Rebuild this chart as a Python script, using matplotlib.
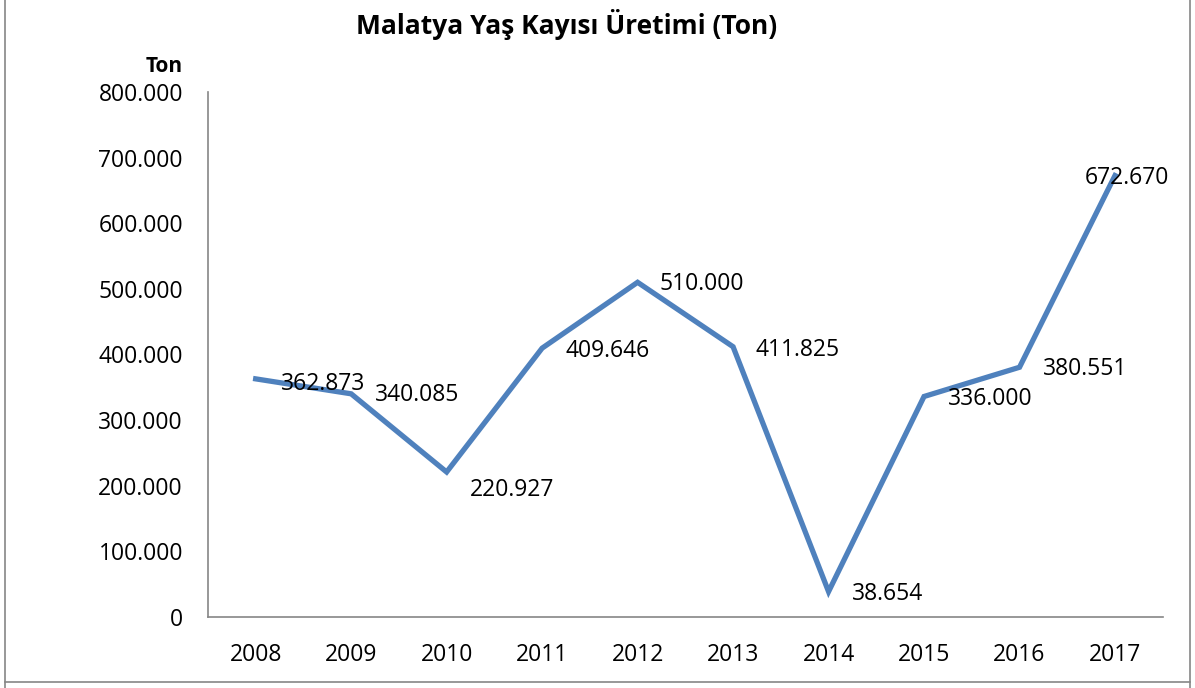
import matplotlib.pyplot as plt
from matplotlib.ticker import FuncFormatter
from matplotlib.lines import Line2D

# Malatya yas kayisi uretimi (ton)
yillar = ["2008", "2009", "2010", "2011", "2012", "2013", "2014", "2015", "2016", "2017"]
uretim = [362873, 340085, 220927, 409646, 510000, 411825, 38654, 336000, 380551, 672670]

# decalage des etiquettes (points)
dx = [18, 17, 17, 17, 16, 16, 17, 17, 17, -22]
dy = [-4, -1, -13, -2, -1, -2, -2, -2, -1, -2]

plt.rcParams['font.family'] = ['Open Sans', 'DejaVu Sans']

fig = plt.figure(figsize=(11.95, 6.88), dpi=100)
ax = fig.add_axes([0.174, 0.1032, 0.799, 0.7631])

x = range(len(yillar))
ax.plot(x, uretim, color="#4F81BD", lw=3.8, solid_joinstyle="miter")

for i, v in enumerate(uretim):
    s = "{:,}".format(v).replace(",", ".")
    ax.annotate(s, (i, v), xytext=(dx[i], dy[i]), textcoords="offset points",
                ha="left", va="center", fontsize=16.5)

ax.set_xlim(-0.5, len(yillar) - 0.5)
ax.set_ylim(0, 800000)
ax.set_xticks(list(x))
ax.set_xticklabels(yillar)
ax.set_yticks(range(0, 800001, 100000))
ax.yaxis.set_major_formatter(FuncFormatter(lambda v, p: "{:,}".format(int(v)).replace(",", ".")))
ax.tick_params(axis="both", length=0, labelsize=16.5)
ax.tick_params(axis="x", pad=19)
ax.tick_params(axis="y", pad=18)

for k in ["top", "right"]:
    ax.spines[k].set_visible(False)
for k in ["left", "bottom"]:
    ax.spines[k].set_color("#868686")
    ax.spines[k].set_linewidth(1.2)

fig.text(0.474, 0.964, "Malatya Yaş Kayısı Üretimi (Ton)", ha="center", va="center",
         fontsize=19, fontweight="bold")
fig.text(0.153, 0.903, "Ton", ha="right", va="center", fontsize=15, fontweight="bold")

# cadre
for xs, ys in [([0.004, 0.004], [0.0, 1.0]), ([0.996, 0.996], [0.0, 1.0]),
               ([0.004, 0.996], [0.009, 0.009])]:
    fig.add_artist(Line2D(xs, ys, color="#868686", lw=1.2, transform=fig.transFigure))

fig.savefig("out.png", dpi=100)
